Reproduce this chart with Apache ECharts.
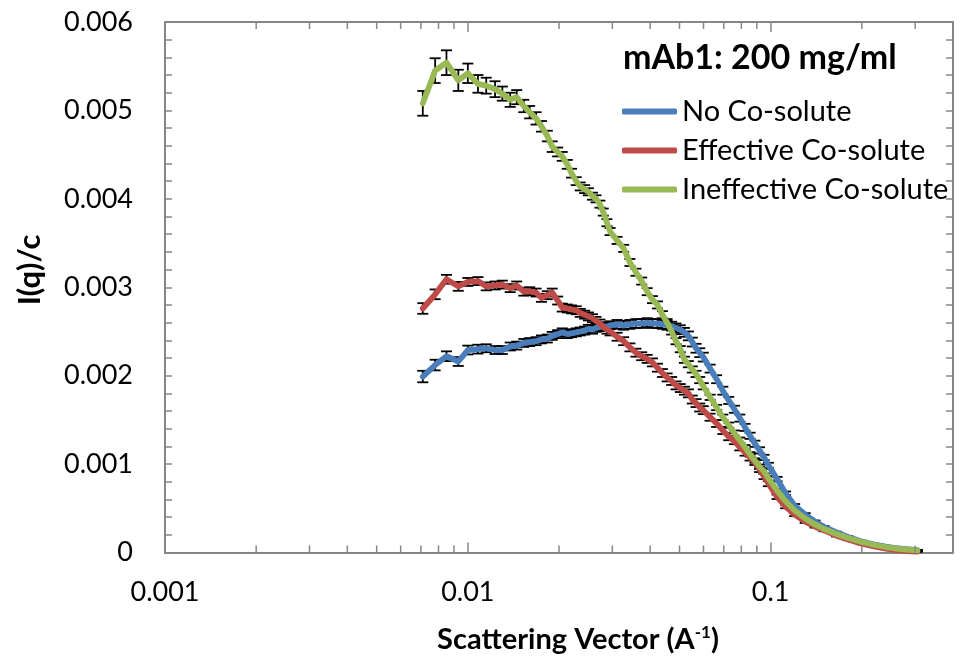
<!DOCTYPE html>
<html><head><meta charset="utf-8">
<script src="https://cdn.jsdelivr.net/npm/echarts@6/dist/echarts.min.js"></script>
<style>html,body{margin:0;padding:0;background:#fff}#c{width:963px;height:657px}</style>
</head><body><div id="c"></div>
<script>
// Scattering vector q (A^-1)
const q = [
  0.0071, 0.0078, 0.0085, 0.0093, 0.0100, 0.0108, 0.0115, 0.0123, 0.0130, 0.0138,
  0.0145, 0.0153, 0.0160, 0.0168, 0.0175, 0.0183, 0.0190, 0.0198, 0.0205, 0.0213,
  0.0220, 0.0228, 0.0235, 0.0243, 0.0250, 0.0258, 0.0265, 0.0273, 0.0280, 0.0288,
  0.0295,
  0.0311, 0.0327, 0.0343, 0.0359, 0.0375, 0.0391, 0.0407, 0.0423, 0.0439, 0.0455,
  0.0471, 0.0487, 0.0503, 0.0519, 0.0535, 0.0551, 0.0567, 0.0583, 0.0599,
  0.0631, 0.0663, 0.0695, 0.0727, 0.0759, 0.0791, 0.0823, 0.0855, 0.0887, 0.0919,
  0.0951, 0.0983,
  0.105, 0.112, 0.12, 0.13, 0.14, 0.15, 0.165, 0.18, 0.2, 0.22, 0.24, 0.26, 0.28, 0.305
];
// I(q)/c : No Co-solute
const noCosolute = [
  0.00199, 0.00212, 0.00222, 0.00216, 0.00229, 0.00230, 0.00231, 0.00229, 0.00229, 0.00233,
  0.00234, 0.00237, 0.00238, 0.00239, 0.00241, 0.00242, 0.00245, 0.00247, 0.00249, 0.00247,
  0.00248, 0.00249, 0.00250, 0.00251, 0.00253, 0.00252, 0.00254, 0.00255, 0.00256, 0.00255,
  0.00257,
  0.00258, 0.00257, 0.00258, 0.00259, 0.00259, 0.00260, 0.00259, 0.00259, 0.00258, 0.00257,
  0.00256, 0.00254, 0.00252, 0.00249, 0.00245, 0.00238, 0.00231, 0.00226, 0.00221,
  0.00208, 0.00196, 0.00183, 0.00172, 0.00162, 0.00152, 0.001415, 0.00132, 0.00123, 0.001155,
  0.001075, 0.000985,
  0.00083, 0.00067, 0.00053, 0.00043, 0.00035, 0.00029, 0.000226, 0.000175, 0.000125, 0.00009,
  0.000066, 0.000048, 0.000037, 0.000026
];
// I(q)/c : Effective Co-solute
const effective = [
  0.00276, 0.00292, 0.00309, 0.00301, 0.00306, 0.00307, 0.00301, 0.00302, 0.00303, 0.00299,
  0.00302, 0.00295, 0.002955, 0.00294, 0.00288, 0.00291, 0.00294, 0.00285, 0.00277, 0.00276,
  0.00275, 0.00274, 0.00271, 0.00269, 0.00267, 0.00265, 0.00262, 0.00259, 0.00255, 0.00252,
  0.00250,
  0.00244, 0.00239, 0.00232, 0.00226, 0.00222, 0.00219, 0.00215, 0.00209, 0.00203, 0.00198,
  0.00194, 0.00189, 0.00186, 0.00183, 0.00180, 0.00173, 0.00169, 0.00164, 0.00161,
  0.00153, 0.00146, 0.00138, 0.00131, 0.00126, 0.00119, 0.00113, 0.001075, 0.00102, 0.00094,
  0.00086, 0.00078,
  0.00063, 0.00052, 0.00043, 0.00035, 0.000294, 0.00025, 0.00019, 0.000147, 0.0001, 0.000068,
  0.000045, 0.000028, 0.000017, 0.000011
];
// I(q)/c : Ineffective Co-solute
const ineffective = [
  0.00508, 0.00545, 0.00554, 0.00534, 0.00542, 0.00530, 0.00528, 0.00524, 0.00519, 0.00512,
  0.00515, 0.00505, 0.00498, 0.00491, 0.00482, 0.00471, 0.00459, 0.00453, 0.00448, 0.00439,
  0.00429, 0.00420, 0.00414, 0.00411, 0.00408, 0.00403, 0.00400, 0.00394, 0.00385, 0.00373,
  0.00363,
  0.00353, 0.00344, 0.00328, 0.00317, 0.00307, 0.00295, 0.00286, 0.00280, 0.00269, 0.00260,
  0.00250, 0.00239, 0.00230, 0.00218, 0.00213, 0.00207, 0.00202, 0.00195, 0.00188,
  0.001755, 0.00164, 0.00153, 0.00144, 0.00135, 0.00127, 0.00119, 0.00111, 0.00104, 0.00097,
  0.00092, 0.00084,
  0.00070, 0.00058, 0.000475, 0.000385, 0.000317, 0.000266, 0.00021, 0.000164, 0.000119, 0.000085,
  0.000062, 0.000045, 0.000034, 0.000023
];
// error bar half-widths
const errNo = [
  0.000065, 0.00006, 0.000055, 0.00005, 0.00005, 0.00005, 0.000045, 0.000045, 0.000045, 0.000045,
  0.000045, 0.000045, 0.000045, 0.000045, 0.000045, 0.000045, 0.000045, 0.000045, 0.000045, 0.000045,
  0.000045, 0.000045, 0.000045, 0.000045, 0.000045, 0.000045, 0.000045, 0.000045, 0.000045, 0.000045,
  0.000045,
  0.00005, 0.00005, 0.00005, 0.00005, 0.00005, 0.00005, 0.00005, 0.00005, 0.00005, 0.00005,
  0.00005, 0.00005, 0.00005, 0.00005, 0.00005, 0.00005, 0.00005, 0.00005, 0.00005,
  0.000045, 0.000045, 0.000045, 0.00004, 0.00004, 0.00004, 0.00004, 0.000035, 0.000035, 0.000035,
  0.00003, 0.00003,
  0.000025, 0.00002, 0.000018, 0.000015, 0.000012, 0.00001, 0.000009, 0.000008, 0.000007, 0.000006,
  0.000005, 0.000005, 0.000004, 0.000004
];
const errEff = [
  0.00006, 0.000055, 0.00005, 0.00005, 0.000045, 0.000045, 0.000045, 0.000045, 0.000045, 0.000045,
  0.000045, 0.000045, 0.000045, 0.000045, 0.000045, 0.000045, 0.000045, 0.000045, 0.000045, 0.000045,
  0.000045, 0.000045, 0.000045, 0.000045, 0.000045, 0.000045, 0.000045, 0.000045, 0.000045, 0.000045,
  0.000045,
  0.000045, 0.000045, 0.000045, 0.000045, 0.000045, 0.000045, 0.000045, 0.000045, 0.000045, 0.000045,
  0.000045, 0.000045, 0.000045, 0.000045, 0.000045, 0.000045, 0.000045, 0.000045, 0.000045,
  0.00004, 0.00004, 0.00004, 0.00004, 0.000035, 0.000035, 0.000035, 0.000035, 0.00003, 0.00003,
  0.00003, 0.00003,
  0.000025, 0.00002, 0.000018, 0.000015, 0.000012, 0.00001, 0.000009, 0.000008, 0.000007, 0.000006,
  0.000005, 0.000005, 0.000004, 0.000004
];
const errIneff = [
  0.00014, 0.00014, 0.00014, 0.00012, 0.00011, 0.0001, 0.00009, 0.00009, 0.00008, 0.00008,
  0.00008, 0.00007, 0.00007, 0.00007, 0.00006, 0.00006, 0.00006, 0.00005, 0.00005, 0.00005,
  0.00005, 0.000045, 0.000045, 0.000045, 0.00004, 0.00004, 0.00004, 0.00004, 0.00004, 0.00004,
  0.00004,
  0.00004, 0.00004, 0.00004, 0.00004, 0.00004, 0.00004, 0.00004, 0.00004, 0.00004, 0.00004,
  0.000035, 0.000035, 0.000035, 0.000035, 0.000035, 0.000035, 0.000035, 0.000035, 0.000035,
  0.00003, 0.00003, 0.00003, 0.00003, 0.00003, 0.00003, 0.000025, 0.000025, 0.000025, 0.000025,
  0.000025, 0.000025,
  0.00002, 0.000018, 0.000015, 0.000012, 0.00001, 0.000009, 0.000008, 0.000007, 0.000006, 0.000005,
  0.000005, 0.000004, 0.000004, 0.000004
];
const seriesNames = ['No Co-solute', 'Effective Co-solute', 'Ineffective Co-solute'];
const seriesColors = ['#4A7EBB', '#BE4B48', '#98B954'];
const chartTitle = 'mAb1: 200 mg/ml';
const xMinorTicks = [0.002,0.003,0.004,0.005,0.006,0.007,0.008,0.009,
                     0.02,0.03,0.04,0.05,0.06,0.07,0.08,0.09,0.2,0.3];

const FONT = 'Lato';
const AX = '#868686';

function lineSeries(name, vals, color) {
  return {
    name: name, type: 'line', z: 4,
    data: q.map((x, i) => [x, vals[i]]),
    showSymbol: false, symbol: 'none',
    lineStyle: { color: color, width: 5.8, cap: 'round', join: 'round' },
    itemStyle: { color: color },
    emphasis: { disabled: true }, animation: false
  };
}
function errSeries(vals, errs) {
  return {
    type: 'custom', z: 3, silent: true, animation: false,
    data: q.map((x, i) => [x, vals[i], errs[i]]),
    encode: { x: 0, y: 1 },
    renderItem: function (params, api) {
      const x = api.value(0), v = api.value(1), e = api.value(2);
      const t = api.coord([x, v + e]);
      const b = api.coord([x, Math.max(v - e, 0)]);
      const hw = 5.5;
      const st = { stroke: '#000', lineWidth: 1.8 };
      return { type: 'group', children: [
        { type: 'line', shape: { x1: t[0], y1: t[1], x2: b[0], y2: b[1] }, style: st },
        { type: 'line', shape: { x1: t[0] - hw, y1: t[1], x2: t[0] + hw, y2: t[1] }, style: st },
        { type: 'line', shape: { x1: b[0] - hw, y1: b[1], x2: b[0] + hw, y2: b[1] }, style: st }
      ]};
    }
  };
}
function isDecade(v) {
  const l = Math.log10(v);
  return Math.abs(l - Math.round(l)) < 1e-6;
}

const chart = echarts.init(document.getElementById('c'), null, { renderer: 'canvas' });
chart.setOption({
  animation: false,
  backgroundColor: '#fff',
  textStyle: { fontFamily: FONT },
  grid: { left: 165, top: 22, right: 10, bottom: 104.5, show: false },
  title: {
    text: chartTitle, left: 618, top: 36,
    textStyle: { fontFamily: FONT, fontSize: 34, fontWeight: 'bold', color: '#000' }
  },
  legend: {
    data: seriesNames, orient: 'vertical', left: 617, top: 92,
    itemWidth: 55, itemHeight: 6, itemGap: 10, icon: 'roundRect',
    textStyle: { fontFamily: FONT, fontSize: 29, color: '#000' },
    selectedMode: false
  },
  xAxis: [
    { type: 'log', logBase: 10, min: 0.001, max: 0.4, position: 'bottom',
      axisLine: { show: true, onZero: false, lineStyle: { color: AX, width: 2 } },
      axisTick: { show: true, inside: true, length: 10, lineStyle: { color: AX, width: 1.5 } },
      splitLine: { show: false },
      axisLabel: { fontFamily: FONT, fontSize: 27, color: '#000', margin: 26,
        formatter: v => isDecade(v) ? String(+v.toPrecision(3)) : '' } },
    { type: 'log', logBase: 10, min: 0.001, max: 0.4, position: 'top',
      axisLine: { show: true, onZero: false, lineStyle: { color: AX, width: 2 } },
      axisTick: { show: true, inside: true, length: 10, lineStyle: { color: AX, width: 1.5 } },
      splitLine: { show: false }, axisLabel: { show: false } }
  ],
  yAxis: [
    { type: 'value', min: 0, max: 0.006, interval: 0.001, position: 'left',
      axisLine: { show: true, onZero: false, lineStyle: { color: AX, width: 2 } },
      axisTick: { show: true, inside: true, length: 7, lineStyle: { color: AX, width: 1.5 } },
      minorTick: { show: true, splitNumber: 5, length: 7, lineStyle: { color: AX, width: 1.5 } },
      splitLine: { show: false },
      axisLabel: { fontFamily: FONT, fontSize: 27, color: '#000', margin: 32,
        formatter: v => v === 0 ? '0' : v.toFixed(3) } },
    { type: 'value', min: 0, max: 0.006, interval: 0.001, position: 'right',
      axisLine: { show: true, onZero: false, lineStyle: { color: AX, width: 2 } },
      axisTick: { show: true, inside: true, length: 7, lineStyle: { color: AX, width: 1.5 } },
      minorTick: { show: true, splitNumber: 5, length: 7, lineStyle: { color: AX, width: 1.5 } },
      splitLine: { show: false }, axisLabel: { show: false } }
  ],
  graphic: [
    { type: 'text', x: 30, y: 270, rotation: Math.PI / 2,
      style: { text: 'I(q)/c', font: 'bold 31px ' + FONT, fill: '#000', align: 'center', verticalAlign: 'middle' } },
    { type: 'text', x: 578, y: 640,
      style: { text: '{a|Scattering Vector (A}{s|-1}{a|)}', align: 'center', verticalAlign: 'middle',
        rich: { a: { font: 'bold 29px ' + FONT, fill: '#000', lineHeight: 32 },
                s: { font: 'bold 17px ' + FONT, fill: '#000', verticalAlign: 'top', lineHeight: 17 } } } }
  ],
  series: [
    { type: 'custom', silent: true, z: 5, animation: false,
      data: xMinorTicks.map(v => [v, 0]), encode: { x: 0, y: 1 },
      renderItem: function (params, api) {
        const p = api.coord([api.value(0), 0]);
        const cs = params.coordSys;
        const st = { stroke: AX, lineWidth: 1.5 };
        return { type: 'group', children: [
          { type: 'line', shape: { x1: p[0], y1: cs.y + cs.height, x2: p[0], y2: cs.y + cs.height - 7 }, style: st },
          { type: 'line', shape: { x1: p[0], y1: cs.y, x2: p[0], y2: cs.y + 7 }, style: st }
        ]};
      } },
    errSeries(noCosolute, errNo),
    errSeries(effective, errEff),
    errSeries(ineffective, errIneff),
    lineSeries(seriesNames[0], noCosolute, seriesColors[0]),
    lineSeries(seriesNames[1], effective, seriesColors[1]),
    lineSeries(seriesNames[2], ineffective, seriesColors[2])
  ]
});
</script></body></html>
